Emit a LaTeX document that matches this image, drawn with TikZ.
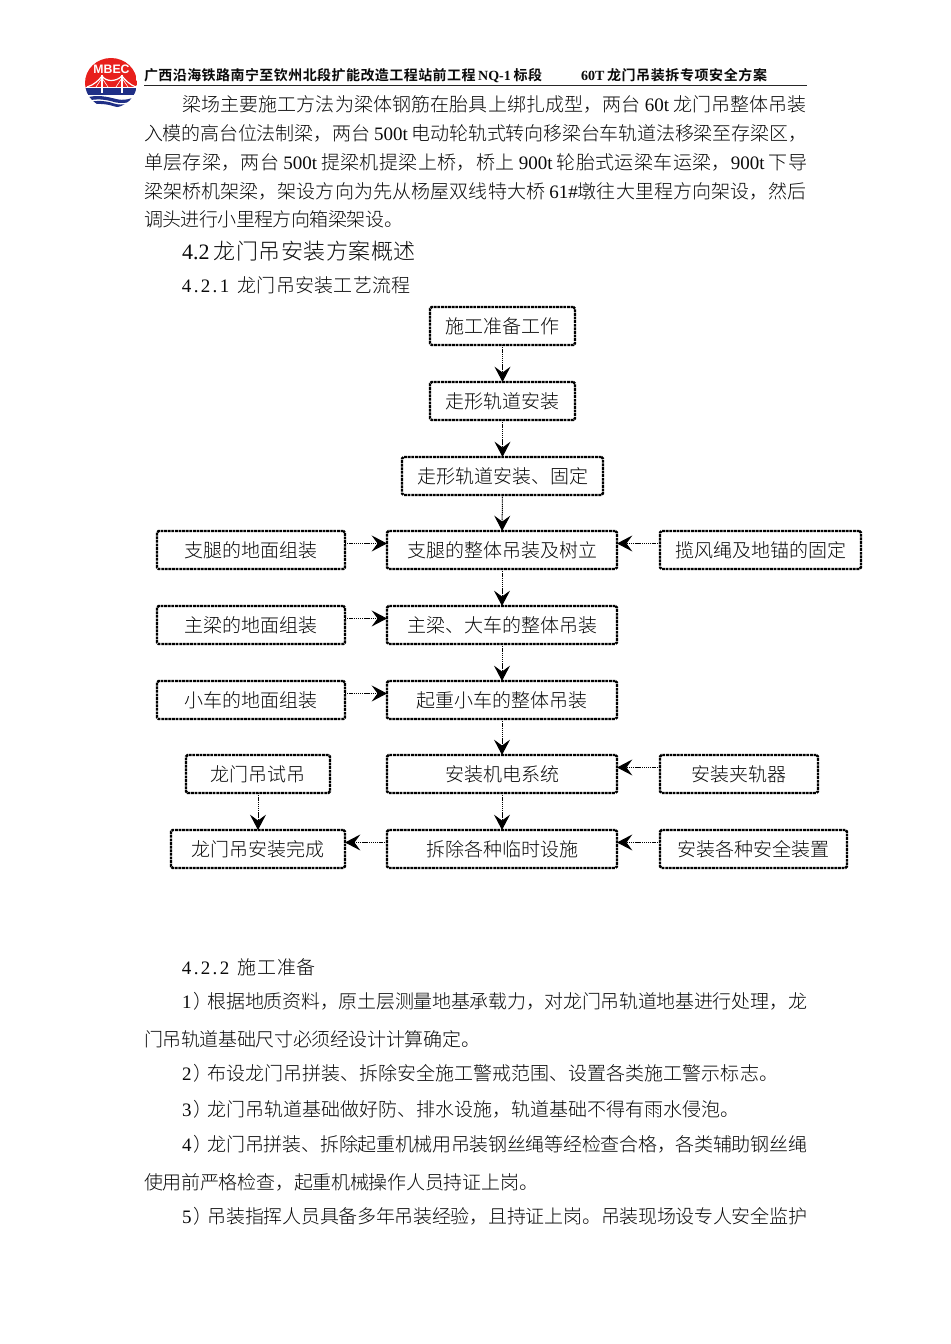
\documentclass[tikz,border=0pt]{standalone}
\usepackage{fontspec}
\usetikzlibrary{arrows.meta}
\setmainfont{Noto Sans CJK SC}[UprightFont=* Light,BoldFont=* Bold]
\newfontfamily\serf{Liberation Serif}
\newfontfamily\logof{Liberation Sans}
\XeTeXlinebreaklocale "zh"
\XeTeXlinebreakskip=0pt plus 4pt minus 1.2pt
\definecolor{logored}{HTML}{E8201C}
\definecolor{logoblue}{HTML}{1F2F86}
\definecolor{ink}{HTML}{0A0A0A}
\newcommand{\dg}[1]{\kern3pt{\serf #1}\kern3pt}
\newcommand{\nm}[1]{{\serf #1}\kern1.5pt）\kern-3.5pt}
\newcommand{\sm}[1]{\hbox to 7.1pt{\hss\serf #1\hss}}
\newlength{\pxu}\setlength{\pxu}{0.75pt}
% \tl{name}{x left}{y baseline}{width px}{size pt}{text}
\newcommand{\tl}[6]{\node[textline,font=\fontsize{#5}{#5}\selectfont] (#1) at (#2,#3)
  {\vbox{\hsize=#4\pxu \parindent=0pt \leftskip=0pt \rightskip=0pt \parfillskip=0pt
   \tolerance=10000 \hbadness=10000 \linepenalty=5000 \leavevmode #6\par}};}
% \bx{name}{x1}{x2}{y1}{y2}{text}
\newcommand{\bx}[6]{%
  \pgfmathsetmacro{\bw}{(#3-#2)*0.75}%
  \pgfmathsetmacro{\bh}{(#5-#4)*0.75}%
  \pgfmathsetmacro{\bcx}{(#2+#3)/2}%
  \pgfmathsetmacro{\bcy}{(#4+#5)/2}%
  \node[flowbox,minimum width=\bw pt,minimum height=\bh pt] (#1) at (\bcx,\bcy) {#6};}
\tikzset{
  textline/.style={anchor=base west,inner sep=0pt,outer sep=0pt,text=ink},
  flowbox/.style={draw=black,line width=1.8pt,dash pattern=on 2.1pt off 0.6pt,rounded corners=1.2pt,
    inner sep=0pt,outer sep=0pt,text=ink,font=\fontsize{14.25}{14.25}\selectfont},
  conn/.style={draw=black,line width=0.75pt,dash pattern=on 1pt off 0.6pt,
    -{Stealth[length=11.5pt,width=12pt,inset=4.4pt]}},
  up/.style={yshift=4.9pt},
}
\begin{document}
\begin{tikzpicture}[x=0.75pt,y=-0.75pt]
\path[use as bounding box,fill=white] (0,0) rectangle (950,1344);
% logo
\begin{scope}
  \clip (111,83) ellipse [x radius=26,y radius=25];
  \fill[logored] (85,58) rectangle (137,88.5);
  \fill[logoblue] (85,88.5) rectangle (137,95);
  \fill[logoblue] (85,98) .. controls (97,94) and (108,97) .. (116,99) .. controls (124,101) and (130,99) .. (137,96.5)
    -- (137,99.5) .. controls (128,103) and (122,104) .. (114,102) .. controls (106,99.5) and (96,98) .. (85,101.5) -- cycle;
  \fill[logoblue] (85,103) .. controls (97,99.5) and (107,101) .. (114,103.5) .. controls (122,106) and (130,103.5) .. (137,101)
    -- (137,103.5) .. controls (128,107) and (121,108.5) .. (113,106) .. controls (105,103.5) and (95,103) .. (85,106) -- cycle;
  \draw[white,line width=0.9pt] (87,87) .. controls (94,85) and (99,80) .. (102,76) .. controls (106,82) and (116,82) .. (122,76) .. controls (125,80) and (130,85) .. (136,87);
  \draw[white,line width=1.3pt] (102,75) -- (102,93) (122,75) -- (122,93);
  \draw[white,line width=0.5pt] (102,78) -- (96,87) (102,78) -- (108,87) (122,78) -- (116,87) (122,78) -- (128,87);
  \draw[white,line width=0.7pt] (85,87.5) -- (137,87.5);
\end{scope}
\node[inner sep=0pt,text=white,font={\logof\fontsize{9.2}{9.2}\selectfont\bfseries}] (logotext) at (111.5,69.5) {MBEC};
% header
\tl{h1}{144}{81}{398}{10.5}{\bfseries 广西沿海铁路南宁至钦州北段扩能改造工程站前工程\kern2pt{\serf NQ-1}\kern2pt 标段}
\tl{h2}{581}{81}{186}{10.5}{\bfseries {\serf 60T}\kern2pt 龙门吊装拆专项安全方案}
\draw[line width=1.1pt,draw=black!85] (144,85.6) -- (807,85.6);
% paragraph
\tl{p1}{182}{112}{625}{14.25}{梁场主要施工方法为梁体钢筋在胎具上绑扎成型，两台\dg{60t}龙门吊整体吊装}
\tl{p2}{144}{141}{663}{14.25}{入模的高台位法制梁，两台\dg{500t}电动轮轨式转向移梁台车轨道法移梁至存梁区，}
\tl{p3}{144}{169.5}{663}{14.25}{单层存梁，两台\dg{500t}提梁机提梁上桥，桥上\dg{900t}轮胎式运梁车运梁，{\serf 900t}\kern3pt 下导}
\tl{p4}{144}{198.5}{663}{14.25}{梁架桥机架梁，架设方向为先从杨屋双线特大桥\kern3pt{\serf 61\#}墩往大里程方向架设，然后}
\tl{p5}{144}{227}{259}{14.25}{调头进行小里程方向箱梁架设。}
\tl{s1}{182}{259.5}{234}{16.5}{{\serf 4.2}\kern3pt 龙门吊安装方案概述}
\tl{s2}{182}{293}{229}{14.25}{\sm{4}\sm{.}\sm{2}\sm{.}\sm{1}\kern6pt 龙门吊安装工艺流程}
% flow
\bx{a1}{430}{575}{307}{345}{施工准备工作}
\bx{a2}{430}{575}{382}{420}{走形轨道安装}
\bx{a3}{402}{603}{457}{495}{走形轨道安装、固定}
\bx{a4}{387}{617}{531}{569}{支腿的整体吊装及树立}
\bx{a5}{387}{617}{606}{644}{主梁、大车的整体吊装}
\bx{a6}{387}{617}{681}{719}{起重小车的整体吊装}
\bx{a7}{387}{617}{755}{793}{安装机电系统}
\bx{a8}{387}{617}{830}{868}{拆除各种临时设施}
\bx{l4}{157}{345}{531}{569}{支腿的地面组装}
\bx{l5}{157}{345}{606}{644}{主梁的地面组装}
\bx{l6}{157}{345}{681}{719}{小车的地面组装}
\bx{l7}{186}{330}{755}{793}{龙门吊试吊}
\bx{l8}{171}{345}{830}{868}{龙门吊安装完成}
\bx{r4}{660}{861}{531}{569}{揽风绳及地锚的固定}
\bx{r7}{660}{818}{755}{793}{安装夹轨器}
\bx{r8}{660}{847}{830}{868}{安装各种安全装置}
\draw[conn] (a1) -- (a2);
\draw[conn] (a2) -- (a3);
\draw[conn] (a3) -- (a4);
\draw[conn] (a4) -- (a5);
\draw[conn] (a5) -- (a6);
\draw[conn] (a6) -- (a7);
\draw[conn] (a7) -- (a8);
\draw[conn] (l7) -- (l8);
\draw[conn] ([up]l4.east) -- ([up]a4.west);
\draw[conn] ([up]l5.east) -- ([up]a5.west);
\draw[conn] ([up]l6.east) -- ([up]a6.west);
\draw[conn] ([up]r4.west) -- ([up]a4.east);
\draw[conn] ([up]r7.west) -- ([up]a7.east);
\draw[conn] ([up]r8.west) -- ([up]a8.east);
\draw[conn] ([up]a8.west) -- ([up]l8.east);
% lower text
\tl{q0}{182}{974}{134}{14.25}{\sm{4}\sm{.}\sm{2}\sm{.}\sm{2}\kern6pt 施工准备}
\tl{q1}{182}{1008}{625}{14.25}{\nm{1}根据地质资料，原土层测量地基承载力，对龙门吊轨道地基进行处理，龙}
\tl{q2}{144}{1046}{336}{14.25}{门吊轨道基础尺寸必须经设计计算确定。}
\tl{q3}{182}{1080}{596}{14.25}{\nm{2}布设龙门吊拼装、拆除安全施工警戒范围、设置各类施工警示标志。}
\tl{q4}{182}{1116}{557}{14.25}{\nm{3}龙门吊轨道基础做好防、排水设施，轨道基础不得有雨水侵泡。}
\tl{q5}{182}{1151}{625}{14.25}{\nm{4}龙门吊拼装、拆除起重机械用吊装钢丝绳等经检查合格，各类辅助钢丝绳}
\tl{q6}{144}{1189}{394}{14.25}{使用前严格检查，起重机械操作人员持证上岗。}
\tl{q7}{182}{1223}{625}{14.25}{\nm{5}吊装指挥人员具备多年吊装经验，且持证上岗。吊装现场设专人安全监护}
\end{tikzpicture}
\end{document}
